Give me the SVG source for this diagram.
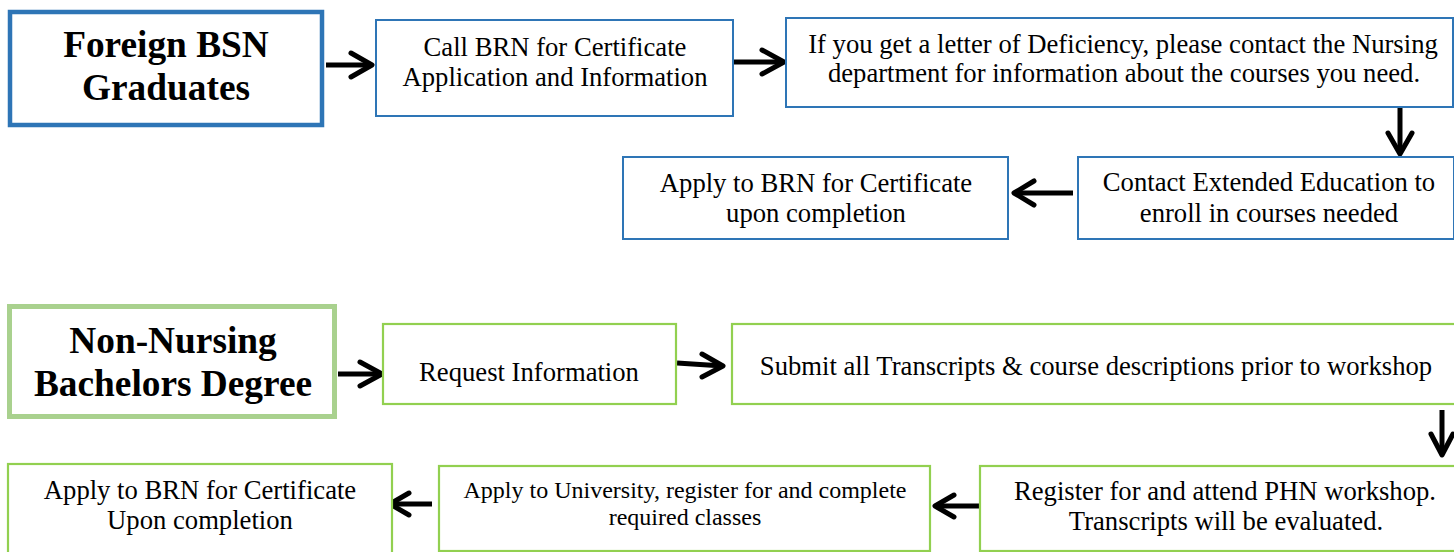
<svg xmlns="http://www.w3.org/2000/svg" width="1454" height="552" viewBox="0 0 1454 552">
<style>
.bg{fill:#ffffff}
.title-blue{fill:#ffffff;stroke:#2E75B6;stroke-width:4.5}
.title-green{fill:#ffffff;stroke:#A9D18E;stroke-width:5}
.box-blue{fill:#ffffff;stroke:#2E75B6;stroke-width:2}
.box-green{fill:#ffffff;stroke:#92D050;stroke-width:2.2}
.tt{font-family:"Liberation Serif","Times New Roman",serif;font-weight:bold;font-size:37.33px;fill:#000;text-anchor:middle}
.t{font-family:"Liberation Serif","Times New Roman",serif;font-size:26.67px;fill:#000;text-anchor:middle}
.ts{font-family:"Liberation Serif","Times New Roman",serif;font-size:24px;fill:#000;text-anchor:middle}
.arr{fill:none;stroke:#000;stroke-width:5;stroke-linecap:round;stroke-linejoin:round}
.arrs{fill:none;stroke:#000;stroke-width:5;stroke-linecap:butt}
</style>
<rect class="bg" x="0" y="0" width="1454" height="552"/>

<g id="connectors">
  <!-- Foreign BSN -> Call BRN -->
  <path class="arrs" d="M326 65 H372"/>
  <path class="arr" d="M351 53 L372 65 L351 77"/>
  <!-- Call BRN -> Deficiency -->
  <path class="arrs" d="M728 62 H784"/>
  <path class="arr" d="M762 50 L784 62 L762 74"/>
  <!-- Deficiency -> Contact Extended -->
  <path class="arrs" d="M1400 108 V154"/>
  <path class="arr" d="M1388 133 L1400 154 L1412 133"/>
  <!-- Contact Extended -> Apply BRN -->
  <path class="arrs" d="M1073 193 H1014"/>
  <path class="arr" d="M1034 181 L1014 193 L1034 205"/>
  <!-- Non-Nursing -> Request -->
  <path class="arrs" d="M338 374 H382"/>
  <path class="arr" d="M360 362 L382 374 L360 386"/>
  <!-- Request -> Submit -->
  <path class="arrs" d="M677 363 L723 366"/>
  <path class="arr" d="M702 354 L723 366 L702 377"/>
  <!-- Submit -> Register -->
  <path class="arrs" d="M1442 410 V455"/>
  <path class="arr" d="M1431 434 L1442 455 L1453 434"/>
  <!-- Register -> University -->
  <path class="arrs" d="M980 506 H935"/>
  <path class="arr" d="M954 495 L935 506 L954 517"/>
  <!-- University -> Apply BRN -->
  <path class="arrs" d="M432 504 H390"/>
  <path class="arr" d="M409 493 L390 504 L409 515"/>
</g>

<g id="node-foreign">
  <rect class="title-blue" x="10" y="12" width="312" height="113"/>
  <text class="tt" x="166" y="57">Foreign BSN</text>
  <text class="tt" x="166" y="100">Graduates</text>
</g>

<g id="node-call-brn">
  <rect class="box-blue" x="376" y="20" width="357" height="96"/>
  <text class="t" x="555" y="56">Call BRN for Certificate</text>
  <text class="t" x="555" y="86">Application and Information</text>
</g>

<g id="node-deficiency">
  <rect class="box-blue" x="786" y="18" width="667" height="89"/>
  <text class="t" x="1123" y="53">If you get a letter of Deficiency, please contact the Nursing</text>
  <text class="t" x="1124" y="82">department for information about the courses you need.</text>
</g>

<g id="node-contact-ext">
  <rect class="box-blue" x="1078" y="157" width="376" height="82"/>
  <text class="t" x="1269" y="191">Contact Extended Education to</text>
  <text class="t" x="1269" y="222">enroll in courses needed</text>
</g>

<g id="node-apply-brn-1">
  <rect class="box-blue" x="623" y="157" width="385" height="82"/>
  <text class="t" x="816" y="192">Apply to BRN for Certificate</text>
  <text class="t" x="816" y="222">upon completion</text>
</g>

<g id="node-non-nursing">
  <rect class="title-green" x="9.5" y="306.5" width="325" height="110"/>
  <text class="tt" x="173" y="353">Non-Nursing</text>
  <text class="tt" x="173" y="396">Bachelors Degree</text>
</g>

<g id="node-request">
  <rect class="box-green" x="383" y="324" width="293" height="80"/>
  <text class="t" x="529" y="381">Request Information</text>
</g>

<g id="node-submit">
  <rect class="box-green" x="732" y="324" width="726" height="80"/>
  <text class="t" x="1096" y="375">Submit all Transcripts &amp; course descriptions prior to workshop</text>
</g>

<g id="node-register">
  <rect class="box-green" x="980" y="466" width="478" height="85"/>
  <text class="t" x="1225" y="500">Register for and attend PHN workshop.</text>
  <text class="t" x="1226" y="530">Transcripts will be evaluated.</text>
</g>

<g id="node-university">
  <rect class="box-green" x="439" y="466" width="491" height="85"/>
  <text class="ts" x="685" y="498">Apply to University, register for and complete</text>
  <text class="ts" x="685" y="525">required classes</text>
</g>

<g id="node-apply-brn-2">
  <rect class="box-green" x="8" y="464" width="384" height="95"/>
  <text class="t" x="200" y="499">Apply to BRN for Certificate</text>
  <text class="t" x="200" y="529">Upon completion</text>
</g>
</svg>
